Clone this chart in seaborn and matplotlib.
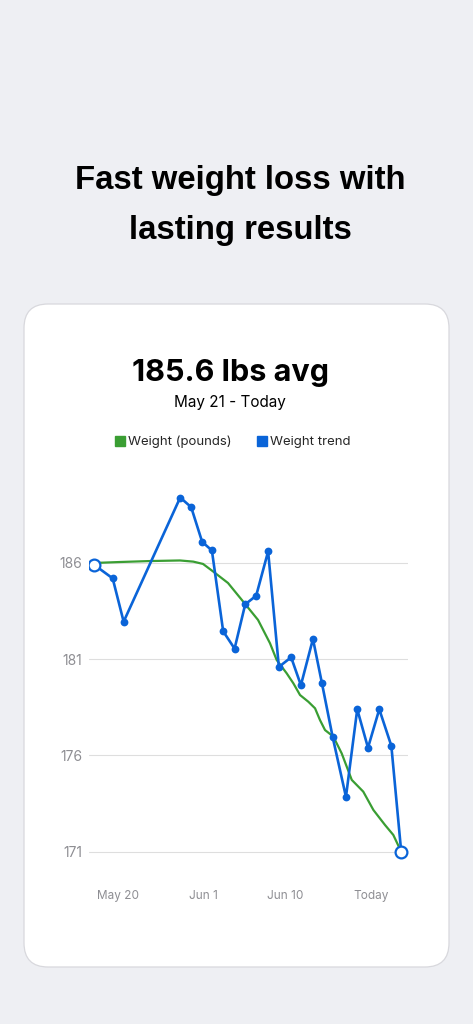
import matplotlib.pyplot as plt
import numpy as np
import pandas as pd
import seaborn as sns
from matplotlib.lines import Line2D
from matplotlib.patches import FancyBboxPatch

# blue series ("Weight trend"), days since first reading
trend_days = [0, 1.68, 2.68, 7.84, 8.84, 9.84, 10.73, 11.76, 12.8, 13.77, 14.77, 15.86,
              16.84, 17.96, 18.85, 19.95, 20.77, 21.75, 22.96, 23.99, 24.97, 26.0, 27.1, 28.0]
trend_lbs = [185.9, 185.2, 182.95, 189.4, 188.9, 187.1, 186.65, 182.45, 181.55, 183.85, 184.3, 186.6,
             180.6, 181.1, 179.65, 182.05, 179.75, 176.95, 173.85, 178.4, 176.4, 178.4, 176.5, 171.0]

# green series ("Weight (pounds)")
weight_days = [0, 2.34, 5.08, 7.82, 9.03, 9.92, 10.86, 12.2, 13.59, 14.94, 16.03, 16.64, 17.55, 18.16,
               18.77, 19.53, 20.14, 20.59, 21.05, 21.81, 22.57, 23.49, 24.54, 25.46, 26.52, 27.28, 28.0]
weight_lbs = [186.0, 186.05, 186.1, 186.13, 186.07, 185.95, 185.55, 184.96, 183.99, 183.04, 181.83,
              180.96, 180.27, 179.75, 179.14, 178.79, 178.45, 177.84, 177.32, 176.98, 176.11, 174.73,
              174.12, 173.17, 172.39, 171.87, 171.0]

x_tick_pos = [2.14, 9.95, 17.46, 25.22]
x_tick_labels = ["May 20", "Jun 1", "Jun 10", "Today"]
y_ticks = [171, 176, 181, 186]

headline = "Fast weight loss with\nlasting results"
avg_text = "185.6 lbs avg"
range_text = "May 21 - Today"

BLUE = "#0A64D8"
GREEN = "#3A9E33"
GREY = "#8E8E93"

df_trend = pd.DataFrame({"day": trend_days, "lbs": trend_lbs})
df_weight = pd.DataFrame({"day": weight_days, "lbs": weight_lbs})

sns.set_style("white")
plt.rcParams["font.family"] = ["Inter", "DejaVu Sans"]

W, H = 473, 1024
fig = plt.figure(figsize=(W / 100, H / 100), dpi=100, facecolor="#EEEFF3")

# background layer in pixel coordinates
bg = fig.add_axes([0, 0, 1, 1])
bg.set_xlim(0, W)
bg.set_ylim(H, 0)
bg.axis("off")
bg.add_patch(FancyBboxPatch((24, 304), 425, 663, boxstyle="round,pad=0,rounding_size=24",
                            facecolor="white", edgecolor="#D8D8DD", linewidth=0.9))

head_font = ["Liberation Sans", "DejaVu Sans"]
line1, line2 = headline.split("\n")
bg.text(240, 181, line1, ha="center", va="center", fontsize=23.7, fontweight="bold",
        color="black", family=head_font)
bg.text(240, 231, line2, ha="center", va="center", fontsize=23.7, fontweight="bold",
        color="black", family=head_font)
bg.text(230, 373, avg_text, ha="center", va="center", fontsize=22, fontweight="bold", color="black")
bg.text(230, 402, range_text, ha="center", va="center", fontsize=11, color="black")

# chart
ax = fig.add_axes([89 / W, 1 - 880 / H, (408 - 89) / W, (880 - 470) / H])
ax.set_facecolor("none")

sns.lineplot(data=df_weight, x="day", y="lbs", color=GREEN, linewidth=1.6, ax=ax, zorder=3)
sns.lineplot(data=df_trend, x="day", y="lbs", color=BLUE, linewidth=1.9, marker="o",
             markersize=5.6, markeredgewidth=0, ax=ax, zorder=4)
ends = df_trend.iloc[[0, -1]]
sns.scatterplot(data=ends, x="day", y="lbs", s=72, color="white", edgecolor=BLUE,
                linewidth=1.6, ax=ax, zorder=5)

ax.set_xlim(-0.48, 28.62)
ax.set_ylim(169.53, 190.83)
ax.set_yticks(y_ticks)
ax.set_yticklabels([str(t) for t in y_ticks])
ax.set_xticks(x_tick_pos)
ax.set_xticklabels(x_tick_labels)
ax.tick_params(axis="y", length=0, pad=5, labelsize=10, labelcolor=GREY)
ax.tick_params(axis="x", length=0, pad=7, labelsize=8.5, labelcolor=GREY)
ax.set_xlabel("")
ax.set_ylabel("")
ax.grid(axis="y", color="#DEDEDE", linewidth=0.8)
ax.grid(axis="x", visible=False)
ax.set_axisbelow(True)
sns.despine(ax=ax, left=True, bottom=True)

handles = [
    Line2D([], [], linestyle="none", marker="s", markersize=7, color=GREEN),
    Line2D([], [], linestyle="none", marker="s", markersize=7, color=BLUE),
]
fig.legend(handles, ["Weight (pounds)", "Weight trend"], loc="center",
           bbox_to_anchor=(232 / W, 1 - 442 / H), ncol=2, frameon=False, fontsize=9.5,
           handletextpad=0.1, columnspacing=1.8, handlelength=1.0)

fig.savefig("out.png", dpi=100, facecolor=fig.get_facecolor())
